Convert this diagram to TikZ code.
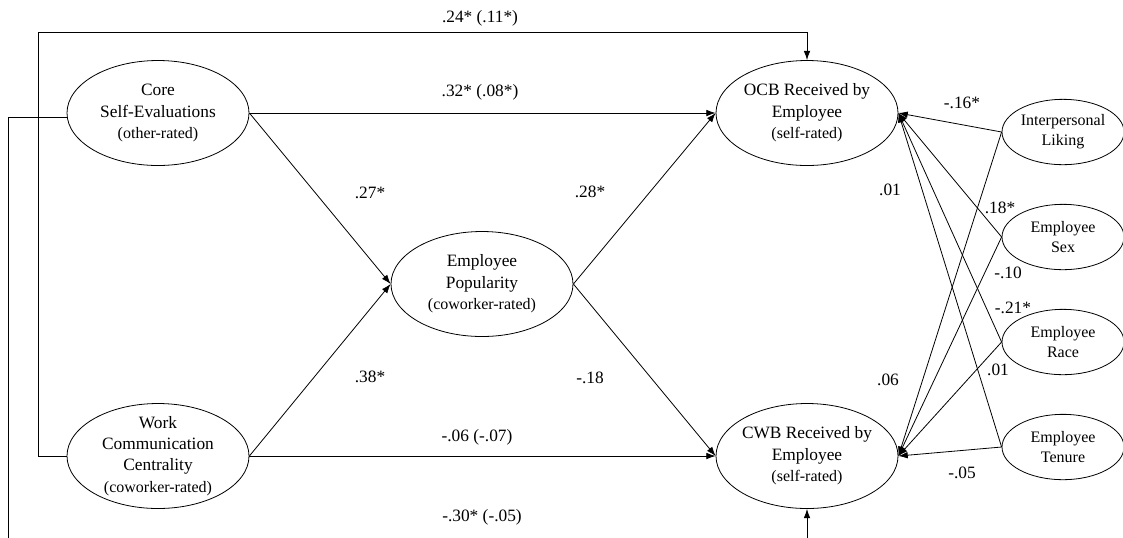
\documentclass[tikz,border=0pt]{standalone}
\usepackage{fontspec}
\setmainfont{Liberation Serif}
\usetikzlibrary{arrows.meta,shapes}

\tikzset{
  bigvar/.style={draw,ellipse,minimum width=136.5pt,minimum height=78.75pt,inner sep=0pt},
  vartext/.style={align=center,inner sep=0pt,font=\fontsize{13}{16}\selectfont},
  smallvar/.style={draw,ellipse,minimum width=91.5pt,minimum height=49pt,inner sep=0pt,align=center,font=\fontsize{12}{15}\selectfont},
  coef/.style={inner sep=0pt,font=\fontsize{13}{16}\selectfont}
}
\newcommand{\rated}[1]{{\fontsize{12}{15}\selectfont #1}}

\begin{document}
\begin{tikzpicture}[x=0.75pt,y=-0.75pt,line width=0.6pt,>={Latex[length=7pt,width=5pt]}]
    \useasboundingbox (0,0) rectangle (1123,537);
    \clip (0,0) rectangle (1123,537);

    % latent variables
    \node[bigvar,label={[vartext]center:{Core\\Self-Evaluations\\\rated{(other-rated)}}}] (cse) at (158,113) {};
    \node[bigvar,label={[vartext]center:{Work\\Communication\\Centrality\\\rated{(coworker-rated)}}}] (wcc) at (158,456) {};
    \node[bigvar,label={[vartext]center:{Employee\\Popularity\\\rated{(coworker-rated)}}}] (pop) at (482,284) {};
    \node[bigvar,label={[vartext]center:{OCB Received by\\Employee\\\rated{(self-rated)}}}] (ocb) at (807,113) {};
    \node[bigvar,label={[vartext]center:{CWB Received by\\Employee\\\rated{(self-rated)}}}] (cwb) at (807,456) {};

    % controls
    \node[smallvar] (liking) at (1063,132) {Interpersonal\\Liking};
    \node[smallvar] (sex) at (1063,237) {Employee\\Sex};
    \node[smallvar] (race) at (1063,342) {Employee\\Race};
    \node[smallvar] (tenure) at (1063,447) {Employee\\Tenure};

    % paths
    \draw[->] (cse) -- (ocb);
    \draw[->] (cse.east) -- (pop.west);
    \draw[->] (wcc.east) -- (pop.west);
    \draw[->] (wcc) -- (cwb);
    \draw[->] (pop.east) -- (ocb.west);
    \draw[->] (pop.east) -- (cwb.west);
    \foreach \c in {liking,sex,race,tenure}{
        \draw[->] (\c.west) -- (ocb.east);
        \draw[->] (\c.west) -- (cwb.east);
    }
    \coordinate (topleft) at (38,32);
    \coordinate (botleft) at (8,560);
    \draw[->] (wcc.west) -| (topleft) -| (ocb.north);
    \draw[->] ([yshift=-3pt]cse.west) -| (botleft) -| (cwb.south);

    % coefficients
    \node[coef] (p-top) at (480,18) {.24* (.11*)};
    \node[coef] (p-cse-ocb) at (480,92) {.32* (.08*)};
    \node[coef] (p-cse-pop) at (370,193) {.27*};
    \node[coef] (p-wcc-pop) at (370,377) {.38*};
    \node[coef] (p-pop-ocb) at (590,192) {.28*};
    \node[coef] (p-pop-cwb) at (590,378) {-.18};
    \node[coef] (p-wcc-cwb) at (477,437) {-.06 (-.07)};
    \node[coef] (p-bottom) at (482,517) {-.30* (-.05)};
    \node[coef] (p-liking-ocb) at (962,103) {-.16*};
    \node[coef] (p-liking-cwb) at (890,190) {.01};
    \node[coef] (p-sex-ocb) at (1000,208) {.18*};
    \node[coef] (p-sex-cwb) at (1008,273) {-.10};
    \node[coef] (p-race-ocb) at (1013,308) {-.21*};
    \node[coef] (p-race-cwb) at (998,370) {.01};
    \node[coef] (p-tenure-ocb) at (888,380) {.06};
    \node[coef] (p-tenure-cwb) at (962,473) {-.05};
\end{tikzpicture}
\end{document}
